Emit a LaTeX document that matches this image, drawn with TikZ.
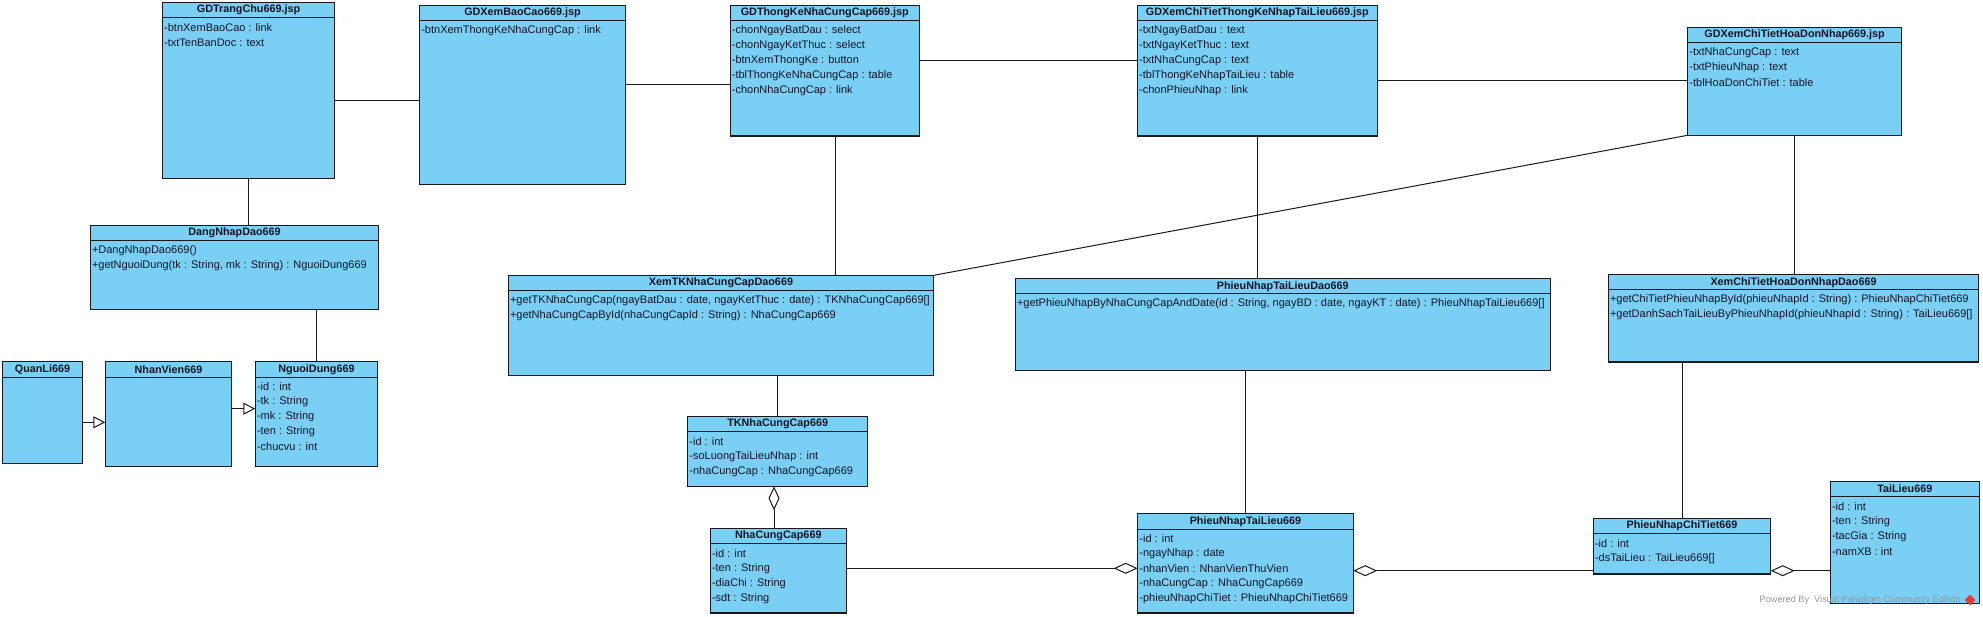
\documentclass[tikz,border=0pt]{standalone}
\usepackage{fontspec}
\setmainfont{Liberation Sans}
\usetikzlibrary{arrows.meta,positioning,shapes.geometric}

\definecolor{vpblue}{RGB}{122,207,245}
\definecolor{vpline}{RGB}{25,25,30}
\definecolor{vptext}{RGB}{20,20,35}
\definecolor{vpgray}{RGB}{150,150,150}
\definecolor{vpred}{RGB}{225,60,50}

\begin{document}
\begin{tikzpicture}[x=1pt, y=-1pt,
  cls/.style={draw=vpline, fill=vpblue, line width=1.3pt, anchor=north west, inner sep=0pt, outer sep=0pt},
  hdr/.style={draw=vpline, line width=1pt},
  ttl/.style={font=\bfseries\fontsize{10.8}{12}\selectfont, text=vptext, inner sep=0pt},
  attr/.style={font=\fontsize{11}{13}\selectfont, text=vptext, anchor=west, inner sep=0pt},
  assoc/.style={draw=vpline, line width=1pt},
  gen/.style={assoc, -{Triangle[open, fill=white, length=12pt, width=12pt]}},
  agg/.style={assoc, {Diamond[open, fill=white, length=24pt, width=11pt]}-}]
  \useasboundingbox (0,0) rectangle (1983,617);

  % the jsp pages
  \node[cls, minimum width=172.1, minimum height=176] (trangchu) at (162.5,2.3) {};
  \node[ttl] (trangchu-t) at ([yshift=-7.7pt]trangchu.north) {GDTrangChu669.jsp};
  \draw[hdr] ([yshift=-15.3pt]trangchu.north west) -- ([yshift=-15.3pt]trangchu.north east);
  \foreach \t [count=\i] in {{-btnXemBaoCao : link},{-txtTenBanDoc : text}}
    \node[attr] (trangchu-\i) at ([xshift=1.5pt, yshift={-10.3pt-15pt*\i}]trangchu.north west) {\t};

  \node[cls, minimum width=205.8, minimum height=179] (xembaocao) at (419.6,5.3) {};
  \node[ttl] (xembaocao-t) at ([yshift=-7.7pt]xembaocao.north) {GDXemBaoCao669.jsp};
  \draw[hdr] ([yshift=-15.3pt]xembaocao.north west) -- ([yshift=-15.3pt]xembaocao.north east);
  \foreach \t [count=\i] in {{-btnXemThongKeNhaCungCap : link}}
    \node[attr] (xembaocao-\i) at ([xshift=1.5pt, yshift={-10.3pt-15pt*\i}]xembaocao.north west) {\t};

  \node[cls, minimum width=189.2, minimum height=130.5] (thongke) at (730.2,5.5) {};
  \node[ttl] (thongke-t) at ([yshift=-7.7pt]thongke.north) {GDThongKeNhaCungCap669.jsp};
  \draw[hdr] ([yshift=-15.3pt]thongke.north west) -- ([yshift=-15.3pt]thongke.north east);
  \foreach \t [count=\i] in {{-chonNgayBatDau : select},{-chonNgayKetThuc : select},{-btnXemThongKe : button},{-tblThongKeNhaCungCap : table},{-chonNhaCungCap : link}}
    \node[attr] (thongke-\i) at ([xshift=1.5pt, yshift={-10.3pt-15pt*\i}]thongke.north west) {\t};

  \node[cls, minimum width=239.7, minimum height=130.5] (xemchitiet) at (1137.5,5.5) {};
  \node[ttl] (xemchitiet-t) at ([yshift=-7.7pt]xemchitiet.north) {GDXemChiTietThongKeNhapTaiLieu669.jsp};
  \draw[hdr] ([yshift=-15.3pt]xemchitiet.north west) -- ([yshift=-15.3pt]xemchitiet.north east);
  \foreach \t [count=\i] in {{-txtNgayBatDau : text},{-txtNgayKetThuc : text},{-txtNhaCungCap : text},{-tblThongKeNhapTaiLieu : table},{-chonPhieuNhap : link}}
    \node[attr] (xemchitiet-\i) at ([xshift=1.5pt, yshift={-10.3pt-15pt*\i}]xemchitiet.north west) {\t};

  \node[cls, minimum width=213.8, minimum height=108] (hoadon) at (1687.7,27.3) {};
  \node[ttl] (hoadon-t) at ([yshift=-7.7pt]hoadon.north) {GDXemChiTietHoaDonNhap669.jsp};
  \draw[hdr] ([yshift=-15.3pt]hoadon.north west) -- ([yshift=-15.3pt]hoadon.north east);
  \foreach \t [count=\i] in {{-txtNhaCungCap : text},{-txtPhieuNhap : text},{-tblHoaDonChiTiet : table}}
    \node[attr] (hoadon-\i) at ([xshift=1.5pt, yshift={-10.3pt-15pt*\i}]hoadon.north west) {\t};

  % login and users
  \node[cls, minimum width=288.4, minimum height=84] (dangnhap) at (90.3,225.3) {};
  \node[ttl] (dangnhap-t) at ([yshift=-7.7pt]dangnhap.north) {DangNhapDao669};
  \draw[hdr] ([yshift=-15.3pt]dangnhap.north west) -- ([yshift=-15.3pt]dangnhap.north east);
  \foreach \t [count=\i] in {{+DangNhapDao669()},{+getNguoiDung(tk : String, mk : String) : NguoiDung669}}
    \node[attr] (dangnhap-\i) at ([xshift=1.5pt, yshift={-10.3pt-15pt*\i}]dangnhap.north west) {\t};

  \node[cls, minimum width=80.4, minimum height=101.6] (quanli) at (2.3,361.7) {};
  \node[ttl] (quanli-t) at ([yshift=-7.7pt]quanli.north) {QuanLi669};
  \draw[hdr] ([yshift=-15.3pt]quanli.north west) -- ([yshift=-15.3pt]quanli.north east);

  \node[cls, minimum width=126.4, minimum height=104.6] (nhanvien) at (105.3,361.7) {};
  \node[ttl] (nhanvien-t) at ([yshift=-7.7pt]nhanvien.north) {NhanVien669};
  \draw[hdr] ([yshift=-15.3pt]nhanvien.north west) -- ([yshift=-15.3pt]nhanvien.north east);

  \node[cls, minimum width=122.4, minimum height=104.6] (nguoidung) at (255.3,361.7) {};
  \node[ttl] (nguoidung-t) at ([yshift=-7.7pt]nguoidung.north) {NguoiDung669};
  \draw[hdr] ([yshift=-15.3pt]nguoidung.north west) -- ([yshift=-15.3pt]nguoidung.north east);
  \foreach \t [count=\i] in {{-id : int},{-tk : String},{-mk : String},{-ten : String},{-chucvu : int}}
    \node[attr] (nguoidung-\i) at ([xshift=1.5pt, yshift={-10.3pt-15pt*\i}]nguoidung.north west) {\t};

  % statistics by supplier
  \node[cls, minimum width=425.4, minimum height=100] (xemtkdao) at (508.3,275.3) {};
  \node[ttl] (xemtkdao-t) at ([yshift=-7.7pt]xemtkdao.north) {XemTKNhaCungCapDao669};
  \draw[hdr] ([yshift=-15.3pt]xemtkdao.north west) -- ([yshift=-15.3pt]xemtkdao.north east);
  \foreach \t [count=\i] in {{+getTKNhaCungCap(ngayBatDau : date, ngayKetThuc : date) : TKNhaCungCap669[]},{+getNhaCungCapById(nhaCungCapId : String) : NhaCungCap669}}
    \node[attr] (xemtkdao-\i) at ([xshift=1.5pt, yshift={-10.3pt-15pt*\i}]xemtkdao.north west) {\t};

  \node[cls, minimum width=180, minimum height=70] (tkncc) at (687.7,416.3) {};
  \node[ttl] (tkncc-t) at ([yshift=-7.7pt]tkncc.north) {TKNhaCungCap669};
  \draw[hdr] ([yshift=-15.3pt]tkncc.north west) -- ([yshift=-15.3pt]tkncc.north east);
  \foreach \t [count=\i] in {{-id : int},{-soLuongTaiLieuNhap : int},{-nhaCungCap : NhaCungCap669}}
    \node[attr] (tkncc-\i) at ([xshift=1.5pt, yshift={-10.3pt-15pt*\i}]tkncc.north west) {\t};

  \node[cls, minimum width=136, minimum height=84.7] (ncc) at (710.3,528.3) {};
  \node[ttl] (ncc-t) at ([yshift=-7.7pt]ncc.north) {NhaCungCap669};
  \draw[hdr] ([yshift=-15.3pt]ncc.north west) -- ([yshift=-15.3pt]ncc.north east);
  \foreach \t [count=\i] in {{-id : int},{-ten : String},{-diaChi : String},{-sdt : String}}
    \node[attr] (ncc-\i) at ([xshift=1.5pt, yshift={-10.3pt-15pt*\i}]ncc.north west) {\t};

  % import slips
  \node[cls, minimum width=535, minimum height=91.6] (pndao) at (1015.3,278.7) {};
  \node[ttl] (pndao-t) at ([yshift=-7.7pt]pndao.north) {PhieuNhapTaiLieuDao669};
  \draw[hdr] ([yshift=-15.3pt]pndao.north west) -- ([yshift=-15.3pt]pndao.north east);
  \foreach \t [count=\i] in {{+getPhieuNhapByNhaCungCapAndDate(id : String, ngayBD : date, ngayKT : date) : PhieuNhapTaiLieu669[]}}
    \node[attr] (pndao-\i) at ([xshift=1.5pt, yshift={-10.3pt-15pt*\i}]pndao.north west) {\t};

  \node[cls, minimum width=215.5, minimum height=99.3] (pn) at (1137.7,513.7) {};
  \node[ttl] (pn-t) at ([yshift=-7.7pt]pn.north) {PhieuNhapTaiLieu669};
  \draw[hdr] ([yshift=-15.3pt]pn.north west) -- ([yshift=-15.3pt]pn.north east);
  \foreach \t [count=\i] in {{-id : int},{-ngayNhap : date},{-nhanVien : NhanVienThuVien},{-nhaCungCap : NhaCungCap669},{-phieuNhapChiTiet : PhieuNhapChiTiet669}}
    \node[attr] (pn-\i) at ([xshift=1.5pt, yshift={-10.3pt-15pt*\i}]pn.north west) {\t};

  \node[cls, minimum width=370.4, minimum height=87.3] (ctdao) at (1608.3,274.7) {};
  \node[ttl] (ctdao-t) at ([yshift=-7.7pt]ctdao.north) {XemChiTietHoaDonNhapDao669};
  \draw[hdr] ([yshift=-15.3pt]ctdao.north west) -- ([yshift=-15.3pt]ctdao.north east);
  \foreach \t [count=\i] in {{+getChiTietPhieuNhapById(phieuNhapId : String) : PhieuNhapChiTiet669},{+getDanhSachTaiLieuByPhieuNhapId(phieuNhapId : String) : TaiLieu669[]}}
    \node[attr] (ctdao-\i) at ([xshift=1.5pt, yshift={-10.3pt-15pt*\i}]ctdao.north west) {\t};

  \node[cls, minimum width=177.4, minimum height=55.7] (pct) at (1593.3,518.3) {};
  \node[ttl] (pct-t) at ([yshift=-7.7pt]pct.north) {PhieuNhapChiTiet669};
  \draw[hdr] ([yshift=-15.3pt]pct.north west) -- ([yshift=-15.3pt]pct.north east);
  \foreach \t [count=\i] in {{-id : int},{-dsTaiLieu : TaiLieu669[]}}
    \node[attr] (pct-\i) at ([xshift=1.5pt, yshift={-10.3pt-15pt*\i}]pct.north west) {\t};

  \node[cls, minimum width=149, minimum height=122] (tailieu) at (1830.3,481.3) {};
  \node[ttl] (tailieu-t) at ([yshift=-7.7pt]tailieu.north) {TaiLieu669};
  \draw[hdr] ([yshift=-15.3pt]tailieu.north west) -- ([yshift=-15.3pt]tailieu.north east);
  \foreach \t [count=\i] in {{-id : int},{-ten : String},{-tacGia : String},{-namXB : int}}
    \node[attr] (tailieu-\i) at ([xshift=1.5pt, yshift={-10.3pt-15pt*\i}]tailieu.north west) {\t};

  % associations
  \draw[assoc] (trangchu.east |- 0,101) -- (xembaocao.west |- 0,101);
  \draw[assoc] (xembaocao.east |- 0,85) -- (thongke.west |- 0,85);
  \draw[assoc] (thongke.east |- 0,60.7) -- (xemchitiet.west |- 0,60.7);
  \draw[assoc] (xemchitiet.east |- 0,80.7) -- (hoadon.west |- 0,80.7);
  \draw[assoc] (trangchu.south) -- (trangchu.south |- dangnhap.north);
  \draw[assoc] (nguoidung.north) -- (nguoidung.north |- dangnhap.south);
  \draw[assoc] (thongke.south -| 835.4,0) -- (xemtkdao.north -| 835.4,0);
  \draw[assoc] (hoadon.south west) -- (xemtkdao.north east);
  \draw[assoc] (xemchitiet.south) -- (xemchitiet.south |- pndao.north);
  \draw[assoc] (hoadon.south) -- (hoadon.south |- ctdao.north);
  \draw[assoc] (tkncc.north) -- (tkncc.north |- xemtkdao.south);
  \draw[assoc] (pn.north) -- (pn.north |- pndao.south);
  \draw[assoc] (pct.north) -- (pct.north |- ctdao.south);

  % generalizations
  \draw[gen] (quanli.east |- 0,422.3) -- (nhanvien.west |- 0,422.3);
  \draw[gen] (nhanvien.east |- 0,408.7) -- (nguoidung.west |- 0,408.7);

  % aggregations
  \draw[agg] (tkncc.south -| 774,0) -- (ncc.north -| 774,0);
  \draw[agg] (pn.west |- 0,568.3) -- (ncc.east |- 0,568.3);
  \draw[agg] (pn.east |- 0,570.7) -- (pct.west |- 0,570.7);
  \draw[agg] (pct.east |- 0,570.7) -- (tailieu.west |- 0,570.7);

  % watermark
  \node[font=\fontsize{9.2}{11}\selectfont, text=vpgray, anchor=east, inner sep=0pt] (powered) at (1961,600) {Powered By\hspace{5pt}Visual Paradigm Community Edition};
  \node[diamond, fill=vpred, inner sep=0pt, minimum size=11pt] (vplogo) at (1970,600) {};
\end{tikzpicture}
\end{document}
